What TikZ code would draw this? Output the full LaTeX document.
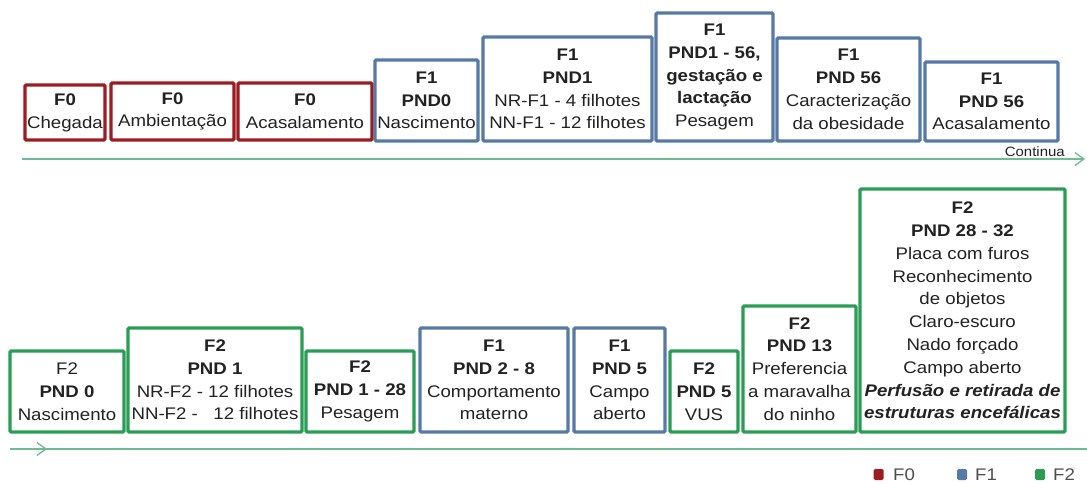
\documentclass[tikz,border=0pt]{standalone}
\usepackage{fontspec}
\setmainfont{Liberation Sans}[FakeStretch=1.11]
\usetikzlibrary{arrows.meta}
\definecolor{cF0}{HTML}{9E1B22}
\definecolor{cF1}{HTML}{5679A6}
\definecolor{cF2}{HTML}{2A9D55}
\definecolor{cLine}{HTML}{6DBA95}
\definecolor{txt}{HTML}{222222}
\tikzset{
  box/.style={draw, line width=3.4pt, rounded corners=1.2pt, inner sep=0pt, align=center,
    text=txt, fill=white, font=\fontsize{16.8}{22.8}\selectfont},
  bf0/.style={box, draw=cF0},
  bf1/.style={box, draw=cF1},
  bf2/.style={box, draw=cF2},
  timeline/.style={draw=cLine, line width=1.8pt},
  chev/.style={-{Straight Barb[length=9pt,width=13pt,line width=1.3pt]}},
  legsq/.style={inner sep=0pt, minimum width=10pt, minimum height=11pt, rounded corners=1.5pt},
  legtxt/.style={anchor=west, inner sep=0pt, text=txt!80, font=\fontsize{16.8}{18}\selectfont},
}
\begin{document}
\begin{tikzpicture}[x=1pt,y=-1pt]
\useasboundingbox[fill=white] (0,0) rectangle (1087,484);
% top timeline
\coordinate (t1s) at (22,159);
\coordinate (t1e) at (1085,159);
\draw[timeline,chev] (t1s) -- (t1e);
\node[anchor=east, inner sep=0pt, text=txt, font=\fontsize{13.5}{15}\selectfont] (cont) at (1065,152) {Continua};
% top row
\node[bf0, minimum width=80pt, minimum height=55pt] (T1) at (65,112.5) {\textbf{F0}\\Chegada};
\node[bf0, minimum width=123pt, minimum height=57pt] (T2) at (172.5,111.5) {\textbf{F0}\\Ambientação};
\node[bf0, minimum width=134pt, minimum height=57pt] (T3) at (305,111.5) {\textbf{F0}\\Acasalamento};
\node[bf1, minimum width=103pt, minimum height=81pt] (T4) at (426.5,100.5) {\textbf{F1}\\\textbf{PND0}\\Nascimento};
\node[bf1, minimum width=169pt, minimum height=104pt] (T5) at (567.5,89) {\textbf{F1}\\\textbf{PND1}\\NR-F1 - 4 filhotes\\NN-F1 - 12 filhotes};
\node[bf1, minimum width=117pt, minimum height=128pt] (T6) at (714.5,77) {\textbf{F1}\\\textbf{PND1 - 56,}\\\textbf{gestação e}\\\textbf{lactação}\\Pesagem};
\node[bf1, minimum width=143pt, minimum height=103pt] (T7) at (848.5,89.5) {\textbf{F1}\\\textbf{PND 56}\\Caracterização\\da obesidade};
\node[bf1, minimum width=133pt, minimum height=79pt] (T8) at (991.5,101.5) {\textbf{F1}\\\textbf{PND 56}\\Acasalamento};
% bottom timeline
\coordinate (t2s) at (10,449);
\coordinate (t2m) at (47,449);
\coordinate (t2e) at (1087,449);
\draw[timeline] (t2s) -- (t2e);
\draw[timeline,chev] (t2s) -- (t2m);
% bottom row
\node[bf2, minimum width=114pt, minimum height=81pt] (B1) at (67,391.5) {F2\\\textbf{PND 0}\\Nascimento};
\node[bf2, minimum width=174pt, minimum height=104pt] (B2) at (215,380) {\textbf{F2}\\\textbf{PND 1}\\NR-F2 - 12 filhotes\\NN-F2 -\ \ \ 12 filhotes};
\node[bf2, minimum width=108pt, minimum height=81pt] (B3) at (360,391.5) {\textbf{F2}\\\textbf{PND 1 - 28}\\Pesagem};
\node[bf1, minimum width=148pt, minimum height=104pt] (B4) at (494,380) {\textbf{F1}\\\textbf{PND 2 - 8}\\Comportamento\\materno};
\node[bf1, minimum width=91pt, minimum height=104pt] (B5) at (619.5,380) {\textbf{F1}\\\textbf{PND 5}\\Campo\\aberto};
\node[bf2, minimum width=68pt, minimum height=81pt] (B6) at (704,391.5) {\textbf{F2}\\\textbf{PND 5}\\VUS};
\node[bf2, minimum width=113pt, minimum height=126pt] (B7) at (799.5,369) {\textbf{F2}\\\textbf{PND 13}\\Preferencia\\a maravalha\\do ninho};
\node[bf2, minimum width=205pt, minimum height=243pt] (B8) at (962.5,310.5) {\textbf{F2}\\\textbf{PND 28 - 32}\\Placa com furos\\Reconhecimento\\de objetos\\Claro-escuro\\Nado forçado\\Campo aberto\\\textbf{\itshape Perfusão e retirada de}\\\textbf{\itshape estruturas encefálicas}};
% legend
\node[legsq, fill=cF0] (L0) at (878.5,474.5) {};
\node[legtxt] (L0t) at (893,475) {F0};
\node[legsq, fill=cF1] (L1) at (962,474.5) {};
\node[legtxt] (L1t) at (975,475) {F1};
\node[legsq, fill=cF2] (L2) at (1040,474.5) {};
\node[legtxt] (L2t) at (1053,475) {F2};
\end{tikzpicture}
\end{document}
